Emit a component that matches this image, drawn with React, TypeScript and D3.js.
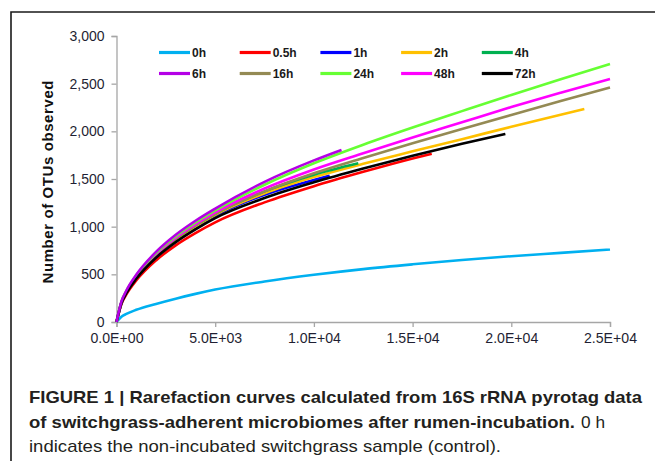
import React, { useRef, useEffect } from 'react';
import * as d3 from 'd3';

// rarefaction curves, [sequences sampled, OTUs observed]
const h0 = [[0, 0], [250, 55], [500, 85], [1000, 128], [2000, 190], [3000, 245], [4000, 295], [5000, 340], [7500, 425], [10000, 495], [12500, 555], [15000, 605], [17500, 650], [20000, 690], [22500, 725], [25000, 760]];
const h05 = [[0, 0], [250, 189], [500, 289], [1000, 435], [2000, 646], [3000, 804], [4000, 932], [5000, 1045], [7500, 1255], [10000, 1425], [12500, 1575], [15000, 1715], [15970, 1765]];
const h1 = [[0, 0], [250, 202], [500, 309], [1000, 464], [2000, 689], [3000, 857], [4000, 995], [5000, 1115], [7500, 1335], [10000, 1490], [10800, 1535]];
const h2 = [[0, 0], [250, 204], [500, 312], [1000, 468], [2000, 695], [3000, 865], [4000, 1003], [5000, 1125], [7500, 1350], [10000, 1520], [12500, 1660], [15000, 1790], [17500, 1918], [20000, 2048], [22500, 2175], [23700, 2234]];
const h4 = [[0, 0], [250, 205], [500, 314], [1000, 472], [2000, 701], [3000, 873], [4000, 1012], [5000, 1135], [7500, 1370], [10000, 1545], [12250, 1665]];
const h6 = [[0, 0], [250, 215], [500, 330], [1000, 495], [2000, 735], [3000, 915], [4000, 1062], [5000, 1190], [7500, 1470], [10000, 1695], [11400, 1805]];
const h16 = [[0, 0], [250, 205], [500, 314], [1000, 472], [2000, 701], [3000, 873], [4000, 1012], [5000, 1135], [7500, 1370], [10000, 1560], [12500, 1720], [15000, 1875], [17500, 2025], [20000, 2172], [22500, 2317], [25000, 2460]];
const h24 = [[0, 0], [250, 212], [500, 324], [1000, 487], [2000, 723], [3000, 900], [4000, 1044], [5000, 1170], [7500, 1440], [10000, 1665], [12500, 1860], [15000, 2040], [17500, 2212], [20000, 2382], [22500, 2547], [25000, 2707]];
const h48 = [[0, 0], [250, 208], [500, 319], [1000, 478], [2000, 711], [3000, 884], [4000, 1026], [5000, 1150], [7500, 1400], [10000, 1600], [12500, 1770], [15000, 1935], [17500, 2095], [20000, 2255], [22500, 2405], [25000, 2550]];
const h72 = [[0, 0], [250, 197], [500, 302], [1000, 453], [2000, 674], [3000, 838], [4000, 972], [5000, 1090], [7500, 1300], [10000, 1465], [12500, 1610], [15000, 1745], [17500, 1870], [19700, 1972]];

const labels = ['0h', '0.5h', '1h', '2h', '4h', '6h', '16h', '24h', '48h', '72h'];
const colors = ['#00b0f0', '#ff0000', '#0000ff', '#ffc000', '#00b050', '#b400e6', '#948a54', '#66ff33', '#ff00ff', '#000000'];
const curves = [h0, h05, h1, h2, h4, h6, h16, h24, h48, h72];
// draw order, later on top
const drawOrder = [0, 1, 2, 3, 4, 6, 8, 7, 9, 5];

const xTicks = [0, 5000, 10000, 15000, 20000, 25000];
const xTickLabels = ['0.0E+00', '5.0E+03', '1.0E+04', '1.5E+04', '2.0E+04', '2.5E+04'];
const yTicks = [0, 500, 1000, 1500, 2000, 2500, 3000];

const App = () => {
    const ref = useRef<SVGSVGElement>(null);

    useEffect(() => {
        const svg = d3.select(ref.current);
        svg.selectAll('*').remove();

        const left = 116.5, right = 610, top = 36, bottom = 322;
        const font = '"Liberation Sans", Arial, sans-serif';
        const narrow = '"Liberation Sans Narrow", "Liberation Sans", Arial, sans-serif';

        // frame
        svg.append('path')
            .attr('d', 'M11,469 L11,12 L663,12')
            .attr('fill', 'none')
            .attr('stroke', '#1a1a1a')
            .attr('stroke-width', 1.6);

        const x = d3.scaleLinear().domain([0, 25000]).range([left, right]);
        const y = d3.scaleLinear().domain([0, 3000]).range([bottom, top]);

        // y axis
        const yAxis = svg.append('g')
            .attr('transform', `translate(${left},0)`)
            .call(d3.axisLeft(y).tickValues(yTicks).tickSize(5).tickPadding(7).tickFormat(d3.format(',')));
        yAxis.select('.domain').attr('stroke', '#a6a6a6').attr('stroke-width', 1.3);
        yAxis.selectAll('.tick line').attr('stroke', '#a6a6a6').attr('stroke-width', 1.3);
        yAxis.selectAll('.tick text')
            .attr('font-family', font).attr('font-size', 14).attr('fill', '#1f1f33');

        // x axis
        const xAxis = svg.append('g')
            .attr('transform', `translate(0,${bottom})`)
            .call(d3.axisBottom(x).tickValues(xTicks).tickSize(5).tickPadding(6)
                .tickFormat((d, i) => xTickLabels[i]));
        xAxis.select('.domain').attr('stroke', '#a6a6a6').attr('stroke-width', 1.3);
        xAxis.selectAll('.tick line').attr('stroke', '#a6a6a6').attr('stroke-width', 1.3);
        xAxis.selectAll('.tick text')
            .attr('font-family', font).attr('font-size', 14).attr('fill', '#1f1f33')
            .attr('textLength', 53).attr('lengthAdjust', 'spacingAndGlyphs');

        // y title
        svg.append('text')
            .attr('transform', 'translate(53,182) rotate(-90)')
            .attr('text-anchor', 'middle')
            .attr('font-family', font).attr('font-size', 15).attr('font-weight', 'bold')
            .attr('fill', '#111')
            .attr('textLength', 203).attr('lengthAdjust', 'spacing')
            .text('Number of OTUs observed');

        // curves
        const line = d3.line<number[]>()
            .x(d => x(d[0]))
            .y(d => y(d[1]))
            .curve(d3.curveMonotoneX);

        drawOrder.forEach(i => {
            svg.append('path')
                .datum(curves[i])
                .attr('d', line)
                .attr('fill', 'none')
                .attr('stroke', colors[i])
                .attr('stroke-width', 2.6)
                .attr('stroke-linejoin', 'round');
        });

        // legend, 2 rows of 5
        labels.forEach((lab, i) => {
            const col = i % 5, row = Math.floor(i / 5);
            const tx = 192 + col * 80.7;
            const ty = 52.5 + row * 21;
            svg.append('line')
                .attr('x1', tx - 33).attr('x2', tx - 2)
                .attr('y1', ty).attr('y2', ty)
                .attr('stroke', colors[i]).attr('stroke-width', 3.2);
            svg.append('text')
                .attr('x', tx).attr('y', ty + 4)
                .attr('font-family', font).attr('font-size', 12).attr('font-weight', 'bold')
                .attr('fill', '#1a1a1a')
                .text(lab);
        });

        // caption
        const cap = svg.append('g').attr('font-family', narrow).attr('font-size', 17).attr('fill', '#231f20');
        cap.append('text').attr('x', 29).attr('y', 403).attr('font-weight', 'bold')
            .attr('textLength', 613).attr('lengthAdjust', 'spacingAndGlyphs')
            .text('FIGURE 1 | Rarefaction curves calculated from 16S rRNA pyrotag data');
        const l2 = cap.append('text').attr('y', 428);
        l2.append('tspan').attr('x', 29).attr('font-weight', 'bold')
            .attr('textLength', 546).attr('lengthAdjust', 'spacingAndGlyphs')
            .text('of switchgrass-adherent microbiomes after rumen-incubation.');
        l2.append('tspan').attr('x', 581)
            .attr('textLength', 24).attr('lengthAdjust', 'spacingAndGlyphs')
            .text('0 h');
        cap.append('text').attr('x', 29).attr('y', 452)
            .attr('textLength', 472).attr('lengthAdjust', 'spacingAndGlyphs')
            .text('indicates the non-incubated switchgrass sample (control).');
    }, []);

    return (
        <div style={{ margin: -8 }}>
            <svg ref={ref} width={663} height={469} style={{ display: 'block' }}></svg>
        </div>
    );
};

export default App;
